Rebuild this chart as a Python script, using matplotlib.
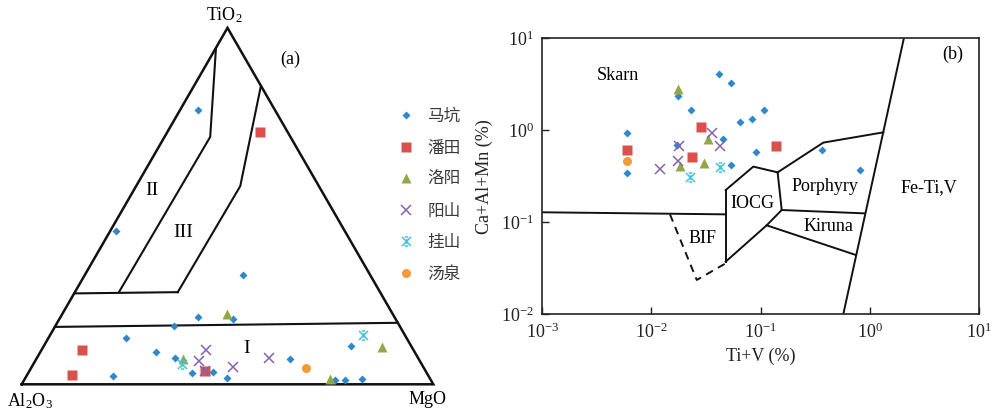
import numpy as np
import matplotlib
matplotlib.use("Agg")
import matplotlib.pyplot as plt
from matplotlib.ticker import LogLocator, LogFormatterMathtext, NullLocator
from matplotlib.lines import Line2D
from matplotlib.path import Path

plt.rcParams['font.family'] = ['Liberation Serif', 'Noto Sans CJK SC']
plt.rcParams['mathtext.fontset'] = 'custom'
plt.rcParams['mathtext.rm'] = 'Liberation Serif'
plt.rcParams['mathtext.it'] = 'Liberation Serif:italic'
plt.rcParams['mathtext.bf'] = 'Liberation Serif:bold'

# star marker: X with short bars at top and bottom
star = Path([(-1, -1), (1, 1), (-1, 1), (1, -1), (-0.4, 1), (0.4, 1), (-0.4, -1), (0.4, -1), (0, -0.5), (0, 0.5)],
            [Path.MOVETO, Path.LINETO, Path.MOVETO, Path.LINETO,
             Path.MOVETO, Path.LINETO, Path.MOVETO, Path.LINETO, Path.MOVETO, Path.LINETO])

# ---------------- data ----------------
groups = ['马坑', '潘田', '洛阳', '阳山', '挂山', '汤泉']
colors = ['#2f88cc', '#d9504c', '#92a844', '#8463b3', '#45c4da', '#f39a3a']
markers = ['D', 's', '^', 'x', star, 'o']
msizes = [4.2, 6.5, 6.5, 7, 6.5, 6.5]

# Ternary (a): TiO2, Al2O3, MgO fractions
tern_TiO2 = [
    [0.770, 0.430, 0.306, 0.189, 0.182, 0.164, 0.129, 0.091, 0.075, 0.031, 0.034, 0.019, 0.022, 0.071, 0.108, 0.012, 0.012, 0.014],
    [0.709, 0.095, 0.026, 0.036],
    [0.197, 0.070, 0.104, 0.014],
    [0.097, 0.065, 0.048, 0.073, 0.037],
    [0.138, 0.057],
    [0.045],
]
tern_MgO = [
    [0.043, 0.013, 0.385, 0.333, 0.422, 0.287, 0.188, 0.282, 0.336, 0.399, 0.448, 0.490, 0.212, 0.616, 0.747, 0.755, 0.779, 0.821],
    [0.225, 0.100, 0.110, 0.428],
    [0.400, 0.356, 0.824, 0.742],
    [0.400, 0.399, 0.489, 0.565, 0.428],
    [0.761, 0.360],
    [0.668],
]
tern_Al2O3 = [[1 - t - m for t, m in zip(ts, ms)] for ts, ms in zip(tern_TiO2, tern_MgO)]

# field boundaries (TiO2, MgO)
bnd_II = [(0.943, 0.0005), (0.694, 0.111), (0.2585, 0.107)]
bnd_III = [(0.836, 0.163), (0.556, 0.253), (0.2585, 0.250)]
bnd_H = [(0.255, 0.0), (0.2585, 0.250)]
bnd_I = [(0.161, 0.0), (0.1725, 0.8275)]

# (b): Ti+V (%) vs Ca+Al+Mn (%)
b_TiV = [
    [0.0415, 0.0538, 0.0176, 0.0229, 0.107, 0.0828, 0.065, 0.0060, 0.0449, 0.0172, 0.0912, 0.0534, 0.0060, 0.366, 0.817],
    [0.0286, 0.0060, 0.0235, 0.139],
    [0.0176, 0.0327, 0.0181, 0.0301],
    [0.0358, 0.0180, 0.0422, 0.0176, 0.0120],
    [0.0424, 0.0224],
    [0.0060],
]
b_CaAlMn = [
    [4.06, 3.29, 2.36, 1.66, 1.66, 1.33, 1.23, 0.94, 0.80, 0.70, 0.585, 0.42, 0.344, 0.611, 0.367],
    [1.09, 0.615, 0.513, 0.674],
    [2.83, 0.81, 0.409, 0.442],
    [0.94, 0.67, 0.674, 0.463, 0.377],
    [0.397, 0.308],
    [0.463],
]

# discrimination field boundaries (x, y)
skarn_line = [(0.001, 0.1285), (0.0478, 0.122)]
iocg_left = [(0.0478, 0.224), (0.0478, 0.0373)]
iocg_top = [(0.0478, 0.224), (0.0857, 0.403), (0.143, 0.349)]
porph_top = [(0.143, 0.349), (0.375, 0.735), (1.33, 0.95)]
feti_line = [(0.571, 0.01), (2.05, 10.0)]
iocg_right = [(0.143, 0.349), (0.156, 0.136)]
porph_kir = [(0.156, 0.136), (0.904, 0.125)]
iocg_bottom = [(0.0478, 0.0373), (0.1135, 0.0927), (0.156, 0.136)]
kir_bottom = [(0.1135, 0.0927), (0.746, 0.0441)]
bif_dash = [(0.01477, 0.122), (0.0260, 0.0236), (0.0478, 0.0358)]

# ---------------- figure ----------------
fig = plt.figure(figsize=(9.94, 4.15), dpi=100)

# ---- (a) ternary ----
axa = fig.add_axes([0, 0, 480 / 994, 1])
axa.set_xlim(-0.0527, 1.1135)
axa.set_ylim(-0.0746, 0.9337)
axa.axis('off')
H = np.sqrt(3) / 2


def proj(t, m):
    t = np.asarray(t, float)
    m = np.asarray(m, float)
    return m + t / 2, t * H


def mkw(mk, c):
    if mk == 'x' or isinstance(mk, Path):
        return dict(mec=c, mew=1.1, mfc='none')
    return dict(mec='none')


tri_x, tri_y = proj([0, 0, 1, 0], [0, 1, 0, 0])
axa.plot(tri_x, tri_y, color='#111111', lw=1.8, solid_joinstyle='miter', clip_on=False)
for b in (bnd_II, bnd_III, bnd_H, bnd_I):
    t, m = zip(*b)
    bx, by = proj(t, m)
    axa.plot(bx, by, color='#111111', lw=1.5)

for g, c, mk, ms, ts, mg in zip(groups, colors, markers, msizes, tern_TiO2, tern_MgO):
    px, py = proj(ts, mg)
    axa.plot(px, py, ls='none', marker=mk, ms=ms, color=c, **mkw(mk, c))

axa.text(0.4915, 0.897, 'TiO$_\\mathregular{2}$', ha='center', va='center', fontsize=13)
axa.text(0.020, -0.042, 'Al$_\\mathregular{2}$O$_\\mathregular{3}$', ha='center', va='center', fontsize=13)
axa.text(0.986, -0.038, 'MgO', ha='center', va='center', fontsize=13)
axa.text(0.316, 0.470, 'II', ha='center', va='center', fontsize=14)
axa.text(0.3926, 0.368, 'III', ha='center', va='center', fontsize=14)
axa.text(0.5466, 0.0875, 'I', ha='center', va='center', fontsize=14)
axa.text(0.652, 0.790, '(a)', ha='center', va='center', fontsize=13)

handles = []
for g, c, mk, ms in zip(groups, colors, markers, msizes):
    handles.append(Line2D([], [], ls='none', marker=mk, ms=ms, color=c, **mkw(mk, c)))
leg = fig.legend(handles, groups, loc='upper left', bbox_to_anchor=(399 / 994, 1 - 108 / 415),
                 frameon=False, handlelength=0.8, handletextpad=0.9, labelspacing=0.87,
                 borderaxespad=0, borderpad=0,
                 prop={'family': ['Noto Sans CJK SC'], 'size': 12})
for t in leg.get_texts():
    t.set_color('#3a3a3a')

# ---- (b) log-log ----
axb = fig.add_axes([542.3 / 994, 1 - 314.3 / 415, (979 - 542.3) / 994, (314.3 - 38.3) / 415])
axb.set_xscale('log')
axb.set_yscale('log')
axb.set_xlim(1e-3, 1e1)
axb.set_ylim(1e-2, 1e1)

for seg in (skarn_line, iocg_left, iocg_top, porph_top, feti_line, iocg_right, porph_kir, iocg_bottom, kir_bottom):
    sx, sy = zip(*seg)
    axb.plot(sx, sy, color='#111111', lw=1.4)
sx, sy = zip(*bif_dash)
axb.plot(sx, sy, color='#111111', lw=1.4, ls=(0, (4, 3)))

for g, c, mk, ms, xs, ys in zip(groups, colors, markers, msizes, b_TiV, b_CaAlMn):
    axb.plot(xs, ys, ls='none', marker=mk, ms=ms, color=c, **mkw(mk, c))

axb.text(0.00497, 3.9, 'Skarn', ha='center', va='center', fontsize=13)
axb.text(0.0294, 0.067, 'BIF', ha='center', va='center', fontsize=13)
axb.text(0.0845, 0.161, 'IOCG', ha='center', va='center', fontsize=13)
axb.text(0.388, 0.244, 'Porphyry', ha='center', va='center', fontsize=13)
axb.text(0.417, 0.0897, 'Kiruna', ha='center', va='center', fontsize=13)
axb.text(3.44, 0.238, 'Fe-Ti,V', ha='center', va='center', fontsize=13)
axb.text(0.941, 0.943, '(b)', ha='center', va='center', fontsize=13, transform=axb.transAxes)

axb.xaxis.set_major_locator(LogLocator(base=10, numticks=10))
axb.yaxis.set_major_locator(LogLocator(base=10, numticks=10))
axb.xaxis.set_minor_locator(NullLocator())
axb.yaxis.set_minor_locator(NullLocator())
axb.xaxis.set_major_formatter(LogFormatterMathtext())
axb.yaxis.set_major_formatter(LogFormatterMathtext())
axb.tick_params(axis='both', which='major', direction='in', length=5, width=1,
                labelsize=13, color='#222222', labelcolor='#222222', pad=6)
axb.tick_params(top=False, right=False)
for s in axb.spines.values():
    s.set_linewidth(1.2)
    s.set_color('#222222')
axb.set_xlabel('Ti+V (%)', fontsize=13, color='#222222', labelpad=4)
axb.set_ylabel('Ca+Al+Mn (%)', fontsize=13, color='#222222', labelpad=6)

fig.savefig('out.png', dpi=100)
